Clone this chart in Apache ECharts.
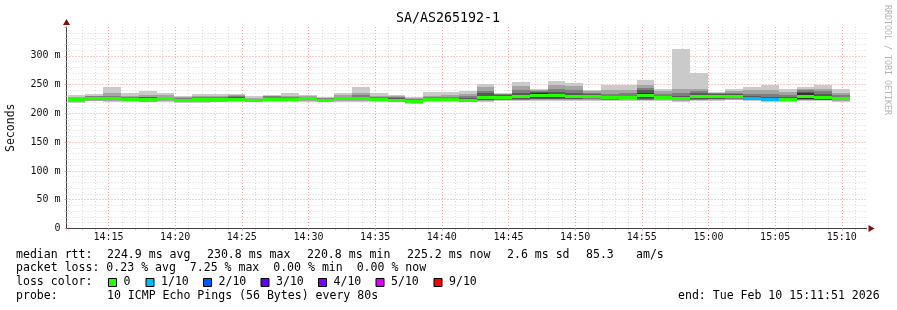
<!DOCTYPE html>
<html><head><meta charset="utf-8">
<script src="https://cdn.jsdelivr.net/npm/echarts@6/dist/echarts.min.js"></script>
<style>html,body{margin:0;padding:0;background:#fff}#c{width:897px;height:310px}</style>
</head><body><div id="c"></div>
<script>
// ---- data (ms), one value per 80 s step, pings sorted low -> high ----
const ping1 = [218.5,221,220,220,219.5,220.5,218,218.4,219,220, 219,220.5,220,220.5,219,220.5,220.5,220,219,217, 220,220,219,220,221,221.5,222,222,222,222, 221.5,222,221.5,222,220.5,221,222,222.5,221,220.5, 220,222,222,220.5];
const ping2 = [220.5,222,222,221.5,220.5,222,219.5,220,220.5,221, 220.5,221.5,221.5,222,220,222,222,221.5,220,218.4, 221.5,221.5,220.5,221.5,222.5,223,223.5,223.5,223.5,223.5, 223,223.5,223,223.5,222,222.5,223.5,224,222.5,222, 221.5,223,223,222];
const ping3 = [221.5,223,223,222.5,221,223,220.5,221,221.5,221.5, 221,222.5,222.5,223,220.5,223,223,222.5,221,219, 222.5,222.5,221.5,222.5,223.5,224,224.5,224.5,224.5,224.5, 224,224.5,224,224.5,223,223.5,224.5,225,223.5,223, 222.5,224,223.5,223];
const ping4 = [222.5,224,224,223.5,221.5,224,221.5,222.5,222.5,222, 222,223.5,223.5,224,221,224,224.5,223.5,221.5,220, 223.5,223.5,222,223.5,224.5,225,225.5,225.5,225.5,226, 225,225.5,225,225.5,223.8,224.5,225,226.5,224.5,224, 223.5,224.5,224,224];
const ping5 = [223.6,224.8,225,224,221.8,224.8,222.2,223.4,223.2,222.5, 222.4,224.4,224,224.8,221.6,225,225.2,223.8,222,220.6, 223.8,224.2,222.6,224.5,225,226,226.6,226.5,227,228, 226.5,227.8,226,227.4,224.5,227,226,228.5,225.4,224.2, 223.8,225,224.6,225];
const ping6 = [224,225.2,225.4,224.4,227.4,225.2,222.6,223.8,223.6,225.5, 222.8,224.8,224.4,225.2,224,225.4,225.6,224.2,224.4,221, 224.2,224.6,223,229.5,229.8,232,235,233.9,232.6,230.4, 227.5,228.6,234.8,227.8,226.7,231.8,232.4,230.7,225.8,224.6, 224.2,235,230.2,225.4];
const ping7 = [225.5,228,227,226,228,227,224,226,225.5,228, 224,227.5,226,227,225,227,228,226,227,222.5, 226,226.5,226,235,231.5,236,237,237,236,233, 230,231,240,231,230,235,233.5,233,230,228, 228,237,234,228];
const ping8 = [227,230,230,228,229,229,226,228.5,228,230, 225.5,229.5,228,229,226,229,232,228,229,224.5, 228,229,230,239,233,241,239,242,241,236, 234,235,244,234,236,238,234.5,236,234,233, 232,240,238,232];
const ping9 = [229,231,235,231,232,232,228,230.5,230.5,231.5, 227.5,231,231,230.5,227,231.5,236,231,231,226.5, 231,232,233.5,245,234,247,240.5,249,247,238.5, 240,241,250,238,242,242,235.5,239.5,240,240, 237,243,243,236];
const ping10 = [232,233.5,245.7,235.5,239,236,231,233.5,233.5,233.5, 229.5,232,236,232,228,236,245.7,236,232,229, 237,237,239,251,235,254.7,242,257,253.5,240, 249,249,258,242,311.6,269.4,237,243,246.5,250, 242,245,250,242];
const medianRtt = [223.8,225.0,225.2,224.2,224.6,225.0,222.4,223.6,223.4,224.0, 222.6,224.6,224.2,225.0,222.8,225.2,225.4,224.0,223.2,220.8, 224.0,224.4,222.8,227.0,227.4,229.0,230.8,230.2,229.8,229.2, 227.0,228.2,230.4,227.6,225.6,229.4,229.2,229.6,225.6,224.4, 224.0,230.0,227.4,225.2];
const lossIdx = [0,0,0,0,0,0,0,0,0,0, 0,0,0,0,0,0,0,0,0,0, 0,0,0,0,0,0,0,0,0,0, 0,0,0,0,0,0,0,0,1,1, 0,0,0,0];

const yTicks = [0, 50, 100, 150, 200, 250, 300];
const lossLabels = ['0', '1/10', '2/10', '3/10', '4/10', '5/10', '9/10'];
const lossColors = ['#26ff00', '#00b8ff', '#0059ff', '#5e00ff', '#7e00ff', '#dd00ff', '#ff0000'];
const smokeColors = ['#cacaca', '#a4a4a4', '#7e7e7e', '#585858', '#323232'];

const titleText = 'SA/AS265192-1';
const startTime = '14:11:51', endTime = '15:11:51', firstBin = '14:11:56', binSeconds = 80;

function hms(s) { const p = s.split(':').map(Number); return p[0]*3600 + p[1]*60 + p[2]; }
function pad(n) { return (n < 10 ? '0' : '') + n; }
const X_MIN = hms(startTime), X_MAX = hms(endTime), BIN0 = hms(firstBin);

const pings = [ping1,ping2,ping3,ping4,ping5,ping6,ping7,ping8,ping9,ping10];
const data = medianRtt.map((m, i) => {
  const row = [Math.max(X_MIN, BIN0 + binSeconds * i), BIN0 + binSeconds * (i + 1)];
  pings.forEach(p => row.push(p[i]));
  row.push(m, lossIdx[i]);
  return row;
});

function renderItem(params, api) {
  const t0 = api.value(0), t1 = api.value(1);
  const children = [];
  for (let k = 0; k < 5; k++) {
    const lo = api.value(2 + k), hi = api.value(11 - k);
    const a = api.coord([t0, hi]), b = api.coord([t1, lo]);
    const x0 = Math.round(a[0]), x1 = Math.round(b[0]);
    const y0 = Math.round(a[1]), y1 = Math.round(b[1]);
    children.push({ type: 'rect', shape: { x: x0, y: y0, width: x1 - x0, height: Math.max(1, y1 - y0) }, style: { fill: smokeColors[k] } });
  }
  const m = api.value(12);
  const c = api.coord([t0, m]), d = api.coord([t1, m]);
  const cx0 = Math.round(c[0]), cx1 = Math.round(d[0]);
  children.push({ type: 'rect', shape: { x: cx0, y: Math.round(c[1] - 1.5), width: cx1 - cx0, height: 3 }, style: { fill: lossColors[api.value(13)] } });
  return { type: 'group', children };
}

const MONO = '"DejaVu Sans Mono", monospace';
const MAJOR = '#f2a0a0', MINOR = '#dadada';
const FT = '11.55px ' + MONO;

function txt(x, y, s, extra) {
  return Object.assign({ type: 'text', x: x, y: y, silent: true,
    style: { text: s, font: FT, fill: '#000', align: 'left', verticalAlign: 'middle' } }, extra || {});
}

const graphics = [
  { type: 'text', x: 448, y: 19, style: { text: titleText, font: '13.3px ' + MONO, fill: '#000', align: 'center', verticalAlign: 'middle' } },
  { type: 'text', x: 887, y: 60, rotation: -Math.PI / 2, style: { text: 'RRDTOOL / TOBI OETIKER', font: '8.3px ' + MONO, fill: '#b4b4b4', align: 'center', verticalAlign: 'middle' } },
  txt(16, 254.7, 'median rtt:'),
  txt(107, 254.7, '224.9 ms avg'),
  txt(207, 254.7, '230.8 ms max'),
  txt(307, 254.7, '220.8 ms min'),
  txt(407, 254.7, '225.2 ms now'),
  txt(507, 254.7, '2.6 ms sd'),
  txt(586, 254.7, '85.3'),
  txt(636, 254.7, 'am/s'),
  txt(16, 268.3, 'packet loss: 0.23 % avg  7.25 % max  0.00 % min  0.00 % now'),
  txt(16, 282.3, 'loss color:'),
  txt(16, 296, 'probe:'),
  txt(107, 296, '10 ICMP Echo Pings (56 Bytes) every 80s'),
  txt(678, 296, 'end: Tue Feb 10 15:11:51 2026')
];
const boxX = [108.5, 146, 203.5, 261, 318.5, 376, 434];
lossLabels.forEach((l, i) => {
  graphics.push({ type: 'rect', shape: { x: boxX[i], y: 278.5, width: 8, height: 8 }, style: { fill: lossColors[i], stroke: '#000', lineWidth: 1 } });
  graphics.push(txt(boxX[i] + 15, 282.3, l));
});

const chart = echarts.init(document.getElementById('c'), null, { renderer: 'canvas' });
chart.setOption({
  backgroundColor: '#ffffff',
  animation: false,
  grid: { left: 66.5, right: 30.5, top: 27, bottom: 81.5, containLabel: false, outerBoundsMode: 'none' },
  xAxis: [
    { type: 'value', min: X_MIN, max: X_MAX, minInterval: 300, maxInterval: 300, splitNumber: 12, z: 2,
      axisLine: { show: true, onZero: false, lineStyle: { color: '#404040', width: 1 } },
      axisTick: { show: true, length: 2, lineStyle: { color: MAJOR } },
      axisLabel: { show: true, showMinLabel: false, showMaxLabel: false, margin: 4, color: '#111', fontFamily: MONO, fontSize: 10,
        formatter: v => { const h = Math.floor(v / 3600), mi = Math.round((v % 3600) / 60); return pad(h) + ':' + pad(mi); } },
      splitLine: { show: true, showMinLine: false, showMaxLine: false, lineStyle: { color: MAJOR, width: 1, type: [1, 2] } } },
    { type: 'value', min: X_MIN, max: X_MAX, minInterval: 60, maxInterval: 60, splitNumber: 60, position: 'bottom', z: 1,
      axisLine: { show: false }, axisLabel: { show: false },
      axisTick: { show: true, length: 2, lineStyle: { color: MINOR } },
      splitLine: { show: true, showMinLine: false, showMaxLine: false, lineStyle: { color: MINOR, width: 1, type: [1, 2] } } },
    { type: 'value', min: X_MIN, max: X_MAX, position: 'bottom', z: 3,
      axisLine: { show: true, onZero: false, symbol: ['none', 'triangle'], symbolSize: [7, 6], symbolOffset: [0, 5], lineStyle: { color: '#7f1010', width: 0 } },
      axisTick: { show: false }, axisLabel: { show: false }, splitLine: { show: false } }
  ],
  yAxis: [
    { type: 'value', min: 0, max: 350, interval: 50, position: 'left', z: 2,
      name: 'Seconds', nameLocation: 'middle', nameGap: 49, nameTextStyle: { fontFamily: MONO, fontSize: 11.5, color: '#111' },
      axisLine: { show: true, onZero: false, lineStyle: { color: '#404040', width: 1 } },
      axisTick: { show: true, length: 2, lineStyle: { color: MAJOR } },
      minorTick: { show: true, splitNumber: 5, length: 2, lineStyle: { color: MINOR } },
      axisLabel: { show: true, showMaxLabel: false, margin: 6, color: '#111', fontFamily: MONO, fontSize: 10,
        formatter: v => yTicks.indexOf(v) < 0 ? '' : (v === 0 ? '0' : v + ' m') },
      splitLine: { show: true, showMinLine: false, showMaxLine: false, lineStyle: { color: MAJOR, width: 1, type: [1, 2] } },
      minorSplitLine: { show: true, lineStyle: { color: MINOR, width: 1, type: [1, 2] } } },
    { type: 'value', min: 0, max: 350, position: 'left', z: 3,
      axisLine: { show: true, onZero: false, symbol: ['none', 'triangle'], symbolSize: [7, 6], symbolOffset: [0, 5], lineStyle: { color: '#7f1010', width: 0 } },
      axisTick: { show: false }, axisLabel: { show: false }, splitLine: { show: false } }
  ],
  series: [{
    type: 'custom', xAxisIndex: 0, yAxisIndex: 0, renderItem: renderItem, clip: true,
    encode: { x: [0, 1], y: [2, 11] }, data: data, silent: true
  }],
  graphic: graphics
});
</script></body></html>
